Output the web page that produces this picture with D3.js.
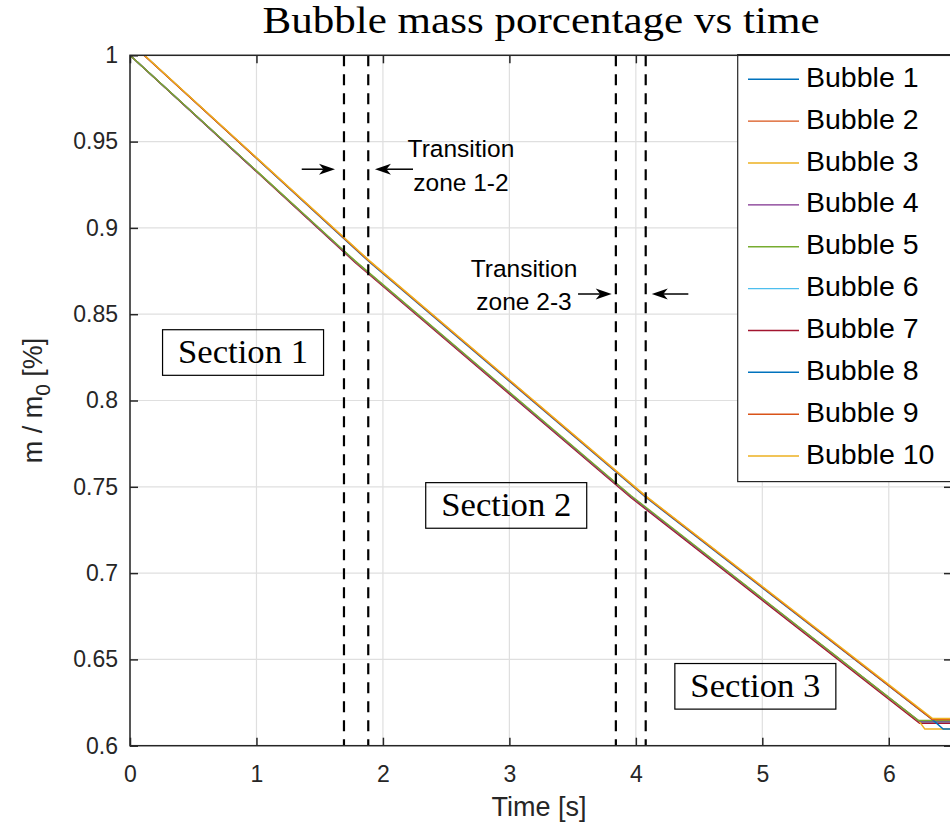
<!DOCTYPE html>
<html>
<head>
<meta charset="utf-8">
<script src="https://cdn.jsdelivr.net/npm/d3@7"></script>
<style>
  html, body { margin: 0; padding: 0; background: #fff; }
  svg { display: block; }
</style>
</head>
<body>
<script>
// ---- data ----
const bubbleNames = ["Bubble 1","Bubble 2","Bubble 3","Bubble 4","Bubble 5",
                     "Bubble 6","Bubble 7","Bubble 8","Bubble 9","Bubble 10"];
const bubbleColors = ["#0072BD","#D95319","#EDB120","#7E2F8E","#77AC30",
                      "#4DBEEE","#A2142F","#0072BD","#D95319","#EDB120"];
const bubbleTimes = [
  [0, 1.78, 3.96, 6.242, 6.5],
  [0.113, 1.893, 4.073, 6.345, 6.5],
  [0, 1.78, 3.96, 6.24, 6.285, 6.5],
  [0, 1.78, 3.96, 6.238, 6.5],
  [0, 1.78, 3.96, 6.236, 6.5],
  [0, 1.78, 3.96, 6.24, 6.5],
  [0, 1.78, 3.96, 6.244, 6.5],
  [0.113, 1.893, 4.073, 6.35, 6.43, 6.5],
  [0.11, 1.89, 4.07, 6.343, 6.5],
  [0.115, 1.895, 4.075, 6.347, 6.5]
];
const bubbleMass = [
  [1, 0.8805, 0.7445, 0.6139, 0.6139],
  [1, 0.8807, 0.7447, 0.6152, 0.6152],
  [1, 0.8806, 0.7446, 0.6141, 0.6097, 0.6097],
  [1, 0.8805, 0.7445, 0.6143, 0.6143],
  [1, 0.8809, 0.7450, 0.6146, 0.6146],
  [1, 0.8805, 0.7444, 0.6140, 0.6140],
  [1, 0.8800, 0.7438, 0.6130, 0.6130],
  [1, 0.8802, 0.7442, 0.6148, 0.6097, 0.6097],
  [1, 0.8808, 0.7448, 0.6155, 0.6155],
  [1, 0.8809, 0.7449, 0.6158, 0.6158]
];
// stacking order of the curves (last is on top)
const drawOrder = [0, 5, 6, 2, 3, 4, 7, 1, 8, 9];
const xTicks = [0, 1, 2, 3, 4, 5, 6];
const yTicks = [0.6, 0.65, 0.7, 0.75, 0.8, 0.85, 0.9, 0.95, 1];

// transition zones (dashed boundaries), arrows and their labels
const zoneBounds = [[1.692, 1.884], [3.842, 4.078]];
const zoneArrowMass = [0.934, 0.8617];
const zoneArrowsLeft = [[1.358, 1.621], [3.543, 3.809]];   // [tail, tip]
const zoneArrowsRight = [[2.238, 1.937], [4.415, 4.126]];  // [tail, tip]
const zoneLabelLines = [["Transition", "zone 1-2"], ["Transition", "zone 2-3"]];
const zoneLabelTime = [2.617, 3.116];
const zoneLabelMass = [[0.9413, 0.9216], [0.8717, 0.8524]];

// section labels
const sectionNames = ["Section 1", "Section 2", "Section 3"];
const sectionTime = [0.894, 2.975, 4.945];
const sectionMass = [0.8278, 0.7392, 0.6344];

// ---- drawing ----
const W = 950, H = 828;
const SANS = "'Liberation Sans', Arial, Helvetica, sans-serif";
const SERIF = "'Liberation Serif', 'Times New Roman', serif";
const INK = "#262626";

const svg = d3.select("body").append("svg")
  .attr("width", W).attr("height", H)
  .attr("viewBox", `0 0 ${W} ${H}`);
svg.append("rect").attr("width", W).attr("height", H).attr("fill", "#fff");

const x = d3.scaleLinear().domain([0, 6.5]).range([130, 952]);
const y = d3.scaleLinear().domain([0.6, 1]).range([745.7, 55.3]);

svg.append("defs").append("clipPath").attr("id", "plot-clip")
  .append("rect")
  .attr("x", x(0)).attr("y", y(1))
  .attr("width", x(6.5) - x(0)).attr("height", y(0.6) - y(1));

// grid
const grid = svg.append("g").attr("stroke", "#dfdfdf").attr("stroke-width", 1.2);
grid.selectAll("line.gx").data(xTicks).join("line").attr("class", "gx")
  .attr("x1", d => x(d)).attr("x2", d => x(d))
  .attr("y1", y(0.6)).attr("y2", y(1));
grid.selectAll("line.gy").data(yTicks).join("line").attr("class", "gy")
  .attr("x1", x(0)).attr("x2", x(6.5))
  .attr("y1", d => y(d)).attr("y2", d => y(d));

// bubble mass curves
const line = d3.line().x(d => x(d[0])).y(d => y(d[1]));
svg.append("g").attr("clip-path", "url(#plot-clip)")
  .selectAll("path").data(drawOrder).join("path")
  .attr("fill", "none")
  .attr("stroke", i => bubbleColors[i])
  .attr("stroke-width", 1.4)
  .attr("d", i => line(bubbleTimes[i].map((t, j) => [t, bubbleMass[i][j]])));

// transition zone boundaries
svg.append("g").selectAll("line")
  .data(zoneBounds.flat()).join("line")
  .attr("x1", d => x(d)).attr("x2", d => x(d))
  .attr("y1", y(1)).attr("y2", y(0.6))
  .attr("stroke", "#000").attr("stroke-width", 2.2)
  .attr("stroke-dasharray", "11,8");

// arrows
function arrow(g, t0, t1, m) {
  const x0 = x(t0), x1 = x(t1), yy = y(m);
  const s = Math.sign(x1 - x0), L = 16, hw = 5.5;
  g.append("line")
    .attr("x1", x0).attr("x2", x1 - s * L * 0.7)
    .attr("y1", yy).attr("y2", yy)
    .attr("stroke", "#000").attr("stroke-width", 1.5);
  g.append("path")
    .attr("d", `M${x1},${yy} L${x1 - s * L},${yy - hw} L${x1 - s * L * 0.72},${yy} L${x1 - s * L},${yy + hw} Z`)
    .attr("fill", "#000");
}
const ann = svg.append("g");
zoneBounds.forEach((z, k) => {
  arrow(ann, zoneArrowsLeft[k][0], zoneArrowsLeft[k][1], zoneArrowMass[k]);
  arrow(ann, zoneArrowsRight[k][0], zoneArrowsRight[k][1], zoneArrowMass[k]);
  zoneLabelLines[k].forEach((txt, j) => {
    ann.append("text")
      .attr("x", x(zoneLabelTime[k])).attr("y", y(zoneLabelMass[k][j]))
      .attr("text-anchor", "middle")
      .attr("font-family", SANS).attr("font-size", 24.5)
      .attr("fill", "#000")
      .text(txt);
  });
});

// section labels in boxes
const secW = 161, secH = 45.6;
const secG = svg.append("g");
sectionNames.forEach((name, i) => {
  const cx = x(sectionTime[i]), cy = y(sectionMass[i]);
  secG.append("rect")
    .attr("x", cx - secW / 2).attr("y", cy - secH / 2)
    .attr("width", secW).attr("height", secH)
    .attr("fill", "none").attr("stroke", "#000").attr("stroke-width", 1.2);
  secG.append("text")
    .attr("x", cx).attr("y", cy + 10.2)
    .attr("text-anchor", "middle")
    .attr("font-family", SERIF).attr("font-size", 33)
    .attr("textLength", 130).attr("lengthAdjust", "spacingAndGlyphs")
    .attr("fill", "#000")
    .text(name);
});

// axes
function styleAxis(g) {
  g.select(".domain").remove();
  g.selectAll(".tick line").attr("stroke", INK).attr("stroke-width", 1.5);
  g.selectAll(".tick text").attr("fill", INK)
    .attr("font-family", SANS).attr("font-size", 23);
}
const fmt = d => String(+d.toFixed(2));
svg.append("g").attr("transform", `translate(0,${y(0.6)})`)
  .call(d3.axisBottom(x).tickValues(xTicks).tickSizeInner(-8).tickSizeOuter(0)
    .tickPadding(20).tickFormat(fmt))
  .call(styleAxis);
svg.append("g").attr("transform", `translate(0,${y(1)})`)
  .call(d3.axisTop(x).tickValues(xTicks).tickSizeInner(-8).tickSizeOuter(0).tickFormat(""))
  .call(styleAxis);
svg.append("g").attr("transform", `translate(${x(0)},0)`)
  .call(d3.axisLeft(y).tickValues(yTicks).tickSizeInner(-8).tickSizeOuter(0)
    .tickPadding(12).tickFormat(fmt))
  .call(styleAxis);
svg.append("g").attr("transform", `translate(${x(6.5)},0)`)
  .call(d3.axisRight(y).tickValues(yTicks).tickSizeInner(-8).tickSizeOuter(0).tickFormat(""))
  .call(styleAxis);

// legend
const legend = svg.append("g");
legend.append("rect")
  .attr("x", 737.7).attr("y", 54.6).attr("width", 240).attr("height", 427)
  .attr("fill", "#fff").attr("stroke", INK).attr("stroke-width", 1.2);
bubbleNames.forEach((name, i) => {
  const ry = 79.3 + i * 41.86;
  legend.append("line")
    .attr("x1", 748).attr("x2", 799).attr("y1", ry).attr("y2", ry)
    .attr("stroke", bubbleColors[i]).attr("stroke-width", 1.4);
  legend.append("text")
    .attr("x", 806).attr("y", ry + 7.6)
    .attr("font-family", SANS).attr("font-size", 28.5)
    .attr("fill", "#000")
    .text(name);
});

// plot frame
svg.append("rect")
  .attr("x", x(0)).attr("y", y(1))
  .attr("width", x(6.5) - x(0)).attr("height", y(0.6) - y(1))
  .attr("fill", "none").attr("stroke", INK).attr("stroke-width", 1.5);

// axis labels and title
svg.append("text")
  .attr("x", (x(0) + x(6.5)) / 2 - 2).attr("y", 816)
  .attr("text-anchor", "middle")
  .attr("font-family", SANS).attr("font-size", 27).attr("fill", INK)
  .text("Time [s]");

const yl = svg.append("text")
  .attr("transform", `translate(41.5,${(y(0.6) + y(1)) / 2}) rotate(-90)`)
  .attr("text-anchor", "middle")
  .attr("font-family", SANS).attr("font-size", 27).attr("fill", INK);
yl.append("tspan").text("m / m");
yl.append("tspan").attr("font-size", 21).attr("dy", 8).text("0");
yl.append("tspan").attr("dy", -8).text(" [%]");

svg.append("text")
  .attr("x", (x(0) + x(6.5)) / 2).attr("y", 33)
  .attr("text-anchor", "middle")
  .attr("font-family", SERIF).attr("font-size", 37)
  .attr("textLength", 557).attr("lengthAdjust", "spacingAndGlyphs")
  .attr("fill", "#000")
  .text("Bubble mass porcentage vs time");
</script>
</body>
</html>
